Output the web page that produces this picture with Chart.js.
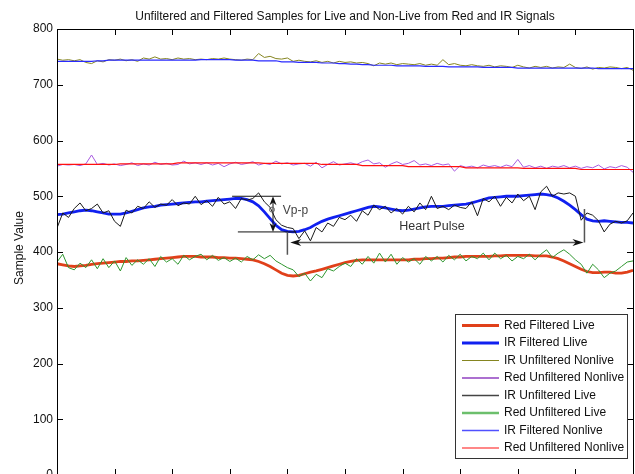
<!DOCTYPE html>
<html>
<head>
<meta charset="utf-8">
<script src="https://cdn.jsdelivr.net/npm/chart.js@4.4.0/dist/chart.umd.min.js"></script>
<style>
  html, body { margin: 0; padding: 0; background: #fff; overflow: hidden; }
  canvas { display: block; }
</style>
</head>
<body>
<canvas id="samples" width="635" height="520"></canvas>
<script>
// sample numbers (x axis)
const sampleNo = [0,10,20,30,40,50,60,70,80,90,100,110,120,130,140,150,160,170,180,190,200,
  210,220,230,240,250,260,270,280,290,300,310,320,330,340,350,360,370,380,390,400,
  410,420,430,440,450,460,470,480,490,500,510,520,530,540,550,560,570,580,590,600,
  610,620,630,640,650,660,670,680,690,700,710,720,730,740,750,760,770,780,790,800,
  810,820,830,840,850,860,870,880,890,900,910,920,930,940,950,960,970,980,990,1000];

const redFiltLive = [379,377,375,374,375,376,378,379,380,381,
  382,383,383,384,384,385,386,387,388,389,
  390,391,392,392,392,391,391,391,390,390,
  389,389,388,387,386,383,379,374,368,362,
  358,357,358,361,364,366,369,372,375,378,
  381,383,385,386,386,386,386,386,386,386,
  386,386,387,387,388,388,389,389,390,391,
  391,392,392,392,392,392,393,393,394,394,
  394,394,394,393,393,393,391,388,384,379,
  374,369,365,363,363,364,364,362,362,364,367];

const irFiltLive = [467,468,470,472,474,475,474,472,470,468,
  468,468,470,473,476,479,481,482,484,485,
  486,487,488,489,490,490,491,492,493,494,
  495,496,496,494,490,483,472,460,448,440,
  437,436,437,440,444,450,455,459,462,465,
  468,471,474,477,480,482,481,479,477,475,
  474,475,477,479,481,482,482,482,483,484,
  485,486,488,491,494,497,498,499,500,500,
  500,501,502,503,504,503,501,497,491,484,
  476,467,459,456,455,456,455,454,453,453,452];

const irUnfNonlive = [746,744,745,743,745,740,738,743,741,745,
  744,746,743,745,742,748,746,750,746,747,
  745,748,746,747,745,746,745,747,746,748,
  746,745,744,746,745,756,749,751,747,746,
  748,742,744,742,741,743,740,742,739,742,
  740,741,739,740,738,734,739,737,739,736,
  738,737,736,738,735,737,735,745,736,738,
  735,734,736,734,733,735,732,734,733,731,
  735,732,730,733,731,733,730,732,731,737,
  731,729,732,728,731,730,732,731,729,731,726];

const redUnfNonlive = [554,557,556,557,555,558,574,557,559,556,
  558,555,557,560,555,558,556,561,557,559,
  556,557,563,558,560,557,560,556,559,553,
  558,561,557,559,562,556,559,557,563,558,
  560,556,558,559,554,561,551,557,562,556,
  558,560,557,562,565,558,560,552,558,562,
  557,559,564,556,558,555,559,556,558,545,
  555,552,554,551,556,553,555,552,556,553,
  566,552,555,551,554,550,554,552,555,551,
  554,550,553,551,556,549,553,551,555,552,543];

const irUnfLive = [443,470,462,478,488,474,478,486,470,474,
  455,446,475,470,482,478,490,480,486,484,
  494,483,488,486,500,485,492,482,498,486,
  490,478,496,493,496,506,490,480,458,448,
  444,442,424,438,420,444,436,452,446,462,
  458,466,455,474,466,484,476,482,470,478,
  468,482,472,488,476,500,478,482,476,484,
  480,478,490,465,496,490,500,482,498,488,
  504,492,500,476,508,518,500,506,504,506,
  500,457,470,466,456,436,450,455,452,456,470];

const redUnfLive = [382,396,372,368,380,372,386,370,388,372,
  384,366,390,376,386,378,388,374,392,382,
  388,378,394,386,392,396,386,394,385,390,
  383,389,382,392,386,395,388,394,384,378,
  372,368,356,362,348,360,354,370,366,374,
  380,374,388,378,392,380,398,382,396,378,
  390,382,388,378,392,384,392,382,394,386,
  396,384,392,388,398,386,398,388,394,384,
  392,388,396,386,396,404,390,398,404,396,
  386,378,362,378,368,354,362,366,374,382,384];

const irFiltNonlive = [742,742,742,742,742,742,742,743,743,744,
  744,744,744,744,744,744,744,744,744,744,
  744,744,744,744,744,745,745,745,745,745,
  745,744,744,744,744,743,743,743,743,741,
  741,741,740,740,740,740,739,739,739,738,
  738,737,737,736,736,735,735,735,735,734,
  734,734,734,734,733,733,733,733,732,732,
  732,732,732,732,731,731,731,731,731,731,
  730,730,730,730,730,730,730,730,730,730,
  730,730,730,730,729,729,729,729,729,729,729];

const redUnfNonlive2 = [557,557,557,557,557,557,557,557,557,557,
  557,558,558,558,558,558,558,558,558,558,
  558,560,560,560,560,560,560,560,560,560,
  560,560,560,560,560,560,559,559,559,559,
  559,559,559,559,559,559,557,557,557,557,
  557,557,557,555,555,555,555,555,555,555,
  555,553,553,553,553,553,553,553,553,553,
  553,551,551,551,551,551,551,551,551,551,
  551,550,550,550,550,550,550,550,550,550,
  550,548,548,548,548,548,548,548,548,548,548];

const yTicks = [0,100,200,300,400,500,600,700,800];
const xTicks = [0,100,200,300,400,500,600,700,800,900,1000];

// annotation positions in data units
const vpp = { x: 375, top: 500, bottom: 436, topFrom: 304, topTo: 389, botFrom: 314, botTo: 415 };
const pulse = { y: 417, from: 405, to: 914, leftTop: 436, leftBottom: 395, rightTop: 477 };

const FONT = '"Liberation Sans", Arial, Helvetica, sans-serif';

function arrowHead(ctx, x, y, ang, len, half) {
  ctx.save();
  ctx.translate(x, y);
  ctx.rotate(ang);
  ctx.beginPath();
  ctx.moveTo(0, 0);
  ctx.lineTo(-len, -half);
  ctx.lineTo(-len * 0.7, 0);
  ctx.lineTo(-len, half);
  ctx.closePath();
  ctx.fill();
  ctx.restore();
}

const matlabLook = {
  id: 'matlabLook',
  afterDatasetsDraw(chart) {
    const ctx = chart.ctx;
    const xs = chart.scales.x, ys = chart.scales.y;
    const X = v => xs.getPixelForValue(v), Y = v => ys.getPixelForValue(v);
    ctx.save();
    // Vp-p marks
    ctx.strokeStyle = '#111';
    ctx.fillStyle = '#111';
    ctx.lineWidth = 1;
    ctx.beginPath();
    ctx.moveTo(X(vpp.topFrom), Y(vpp.top)); ctx.lineTo(X(vpp.topTo), Y(vpp.top));
    ctx.moveTo(X(vpp.botFrom), Y(vpp.bottom)); ctx.lineTo(X(vpp.botTo), Y(vpp.bottom));
    ctx.moveTo(X(vpp.x), Y(vpp.top) + 6); ctx.lineTo(X(vpp.x), Y(vpp.bottom) - 6);
    ctx.stroke();
    arrowHead(ctx, X(vpp.x), Y(vpp.top), -Math.PI / 2, 9, 3.5);
    arrowHead(ctx, X(vpp.x), Y(vpp.bottom), Math.PI / 2, 9, 3.5);
    ctx.beginPath();
    ctx.arc(X(vpp.x) - 1, Y(476), 2.5, 0, Math.PI * 2);
    ctx.strokeStyle = '#666';
    ctx.stroke();
    ctx.fillStyle = '#444';
    ctx.font = '12px ' + FONT;
    ctx.textBaseline = 'middle';
    ctx.textAlign = 'left';
    ctx.fillText('Vp-p', X(392), Y(474));

    // heart pulse
    ctx.strokeStyle = '#555';
    ctx.lineWidth = 1.5;
    ctx.beginPath();
    ctx.moveTo(X(pulse.from) + 6, Y(pulse.y)); ctx.lineTo(X(pulse.to) - 6, Y(pulse.y));
    ctx.moveTo(X(400), Y(pulse.leftTop)); ctx.lineTo(X(400), Y(pulse.leftBottom));
    ctx.moveTo(X(pulse.to) + 1, Y(pulse.rightTop)); ctx.lineTo(X(pulse.to) + 1, Y(pulse.y));
    ctx.stroke();
    ctx.fillStyle = '#111';
    arrowHead(ctx, X(pulse.from), Y(pulse.y), Math.PI, 11, 3.5);
    arrowHead(ctx, X(pulse.to), Y(pulse.y), 0, 11, 3.5);
    ctx.fillStyle = '#333';
    ctx.textAlign = 'center';
    ctx.font = '12.5px ' + FONT;
    ctx.fillText('Heart Pulse', X(651), Y(446));
    ctx.restore();
  },
  afterDraw(chart) {
    const ctx = chart.ctx;
    const a = chart.chartArea;
    const xs = chart.scales.x, ys = chart.scales.y;
    ctx.save();
    // box and inward ticks
    ctx.strokeStyle = '#000';
    ctx.lineWidth = 1;
    ctx.strokeRect(Math.round(a.left) + 0.5, Math.round(a.top) + 0.5, Math.round(a.right - a.left), Math.round(a.bottom - a.top));
    ctx.beginPath();
    xTicks.forEach(t => {
      const px = Math.round(xs.getPixelForValue(t)) + 0.5;
      ctx.moveTo(px, a.top); ctx.lineTo(px, a.top + 6);
      ctx.moveTo(px, a.bottom); ctx.lineTo(px, a.bottom - 6);
    });
    yTicks.forEach(t => {
      const py = Math.round(ys.getPixelForValue(t)) + 0.5;
      ctx.moveTo(a.left, py); ctx.lineTo(a.left + 6, py);
      ctx.moveTo(a.right, py); ctx.lineTo(a.right - 6, py);
    });
    ctx.stroke();

    // y tick labels
    ctx.fillStyle = '#111';
    ctx.font = '12px ' + FONT;
    ctx.textAlign = 'right';
    ctx.textBaseline = 'middle';
    yTicks.forEach(t => ctx.fillText(String(t), a.left - 4, ys.getPixelForValue(t)));

    // y title
    ctx.save();
    ctx.translate(20, (a.top + a.bottom) / 2 - 4);
    ctx.rotate(-Math.PI / 2);
    ctx.textAlign = 'center';
    ctx.fillText('Sample Value', 0, 0);
    ctx.restore();

    // title
    ctx.font = '12px ' + FONT;
    ctx.textAlign = 'center';
    ctx.fillText('Unfiltered and Filtered Samples for Live and Non-Live from Red and IR Signals', (a.left + a.right) / 2, 17);

    // legend
    const lx = 455, ly = 314, lw = 172, lh = 144;
    ctx.fillStyle = '#fff';
    ctx.fillRect(lx, ly, lw, lh);
    ctx.strokeStyle = '#333';
    ctx.strokeRect(lx + 0.5, ly + 0.5, lw, lh);
    ctx.font = '12px ' + FONT;
    ctx.textAlign = 'left';
    chart.data.datasets.forEach((ds, i) => {
      const y = ly + 11.5 + i * 17.5;
      ctx.strokeStyle = ds.legendColor || ds.borderColor;
      ctx.lineWidth = ds.legendWidth || ds.borderWidth;
      ctx.beginPath();
      ctx.moveTo(lx + 7, y); ctx.lineTo(lx + 44, y);
      ctx.stroke();
      ctx.fillStyle = '#111';
      ctx.fillText(ds.label, lx + 49, y);
    });
    ctx.restore();
  }
};

const mk = (label, data, color, width, extra) => Object.assign({
  label: label,
  data: data,
  borderColor: color,
  borderWidth: width,
  pointRadius: 0,
  tension: 0,
  fill: false
}, extra || {});

const datasets = [
  mk('Red Filtered Live', redFiltLive, '#e0401a', 2.8),
  mk('IR Filtered Llive', irFiltLive, '#1020f0', 2.8),
  mk('IR Unfiltered Nonlive', irUnfNonlive, '#858520', 1),
  mk('Red Unfiltered Nonlive', redUnfNonlive, '#a85ae0', 1, { legendColor: '#9040c0', legendWidth: 1.5 }),
  mk('IR Unfiltered Live', irUnfLive, '#1a1a1a', 1, { legendColor: '#444', legendWidth: 1.5 }),
  mk('Red Unfiltered Live', redUnfLive, '#2e962e', 1, { legendColor: '#6cbf6c', legendWidth: 2.5 }),
  mk('IR Filtered Nonlive', irFiltNonlive, '#2a2aff', 1.2, { legendColor: '#5050ff', legendWidth: 1.5 }),
  mk('Red Unfiltered Nonlive', redUnfNonlive2, '#ff1010', 1.2, { legendWidth: 1.2 })
];
// later series drawn on top, like the original plot order
datasets.forEach((d, i) => { d.order = datasets.length - i; });

new Chart(document.getElementById('samples'), {
  type: 'line',
  data: { labels: sampleNo, datasets: datasets },
  options: {
    responsive: false,
    animation: false,
    layout: { padding: { left: 57, top: 29, right: 2, bottom: 45 } },
    plugins: { legend: { display: false }, tooltip: { enabled: false }, title: { display: false } },
    scales: {
      x: { type: 'linear', min: 0, max: 1000, display: false },
      y: { min: 0, max: 800, display: false }
    }
  },
  plugins: [matlabLook]
});
</script>
</body>
</html>
